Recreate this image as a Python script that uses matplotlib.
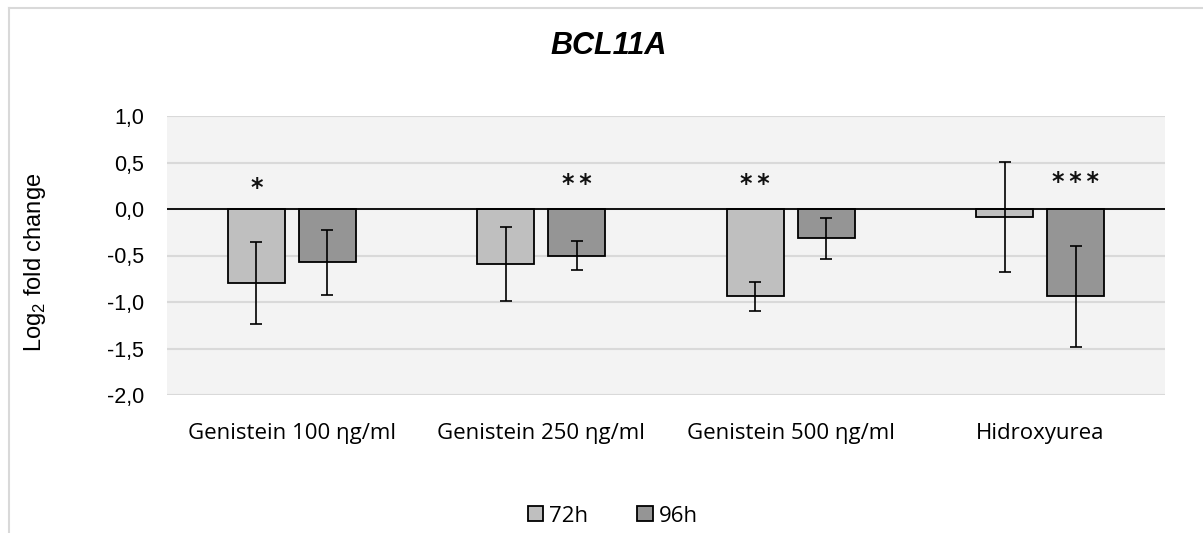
import matplotlib
matplotlib.use("Agg")
import matplotlib.pyplot as plt
import numpy as np
from matplotlib.patches import Patch
from matplotlib.lines import Line2D

categories = ["Genistein 100 \u03b7g/ml", "Genistein 250 \u03b7g/ml",
              "Genistein 500 \u03b7g/ml", "Hidroxyurea"]
series_names = ["72h", "96h"]
values_72h = [-0.80, -0.59, -0.94, -0.086]
values_96h = [-0.575, -0.50, -0.316, -0.94]
err_72h = [0.44, 0.40, 0.16, 0.59]
err_96h = [0.35, 0.155, 0.22, 0.546]
sig_72h = ["*", "", "**", ""]
sig_96h = ["", "**", "", "***"]
sig_y_72h = [0.23, 0.0, 0.27, 0.0]
sig_y_96h = [0.0, 0.27, 0.0, 0.29]
yticks = [1.0, 0.5, 0.0, -0.5, -1.0, -1.5, -2.0]
ytick_labels = ["1,0", "0,5", "0,0", "-0,5", "-1,0", "-1,5", "-2,0"]
title = "BCL11A"
ylabel = "Log$_\\mathregular{2}$ fold change"

colors = ["#BFBFBF", "#959595"]
W, H = 1203, 533
fig = plt.figure(figsize=(W / 100, H / 100), dpi=100)
fig.patch.set_facecolor("white")

ax = fig.add_axes([167 / W, 1 - 395 / H, 998 / W, 279 / H])
ax.set_facecolor("#F3F3F3")
for s in ax.spines.values():
    s.set_visible(False)

x = np.arange(len(categories))
bw = 0.228
off = 0.142
ekw = dict(ecolor="black", elinewidth=1.2, capsize=4.2, capthick=1.2)
for i, (vals, errs, sig, sy) in enumerate([(values_72h, err_72h, sig_72h, sig_y_72h),
                                           (values_96h, err_96h, sig_96h, sig_y_96h)]):
    xs = x + (off if i else -off)
    ax.bar(xs, vals, width=bw, color=colors[i], edgecolor="black",
           linewidth=1.3, zorder=3, label=series_names[i])
    ax.errorbar(xs, vals, yerr=errs, fmt="none", zorder=5, **ekw)
    for xi, s, yy in zip(xs, sig, sy):
        if s:
            ax.text(xi, yy, "\u2009".join(s), ha="center", va="center", fontsize=17,
                    family=["DejaVu Sans"], fontweight="bold", color="#111111",
                    zorder=6)

ax.axhline(0, color="black", linewidth=1.3, zorder=4)
ax.set_ylim(-2.0, 1.0)
ax.set_xlim(-0.5, len(categories) - 0.5)
ax.set_yticks(yticks)
ax.set_yticklabels(ytick_labels, family="Liberation Sans", fontsize=15.5)
ax.yaxis.grid(True, color="#D9D9D9", linewidth=1.5, zorder=0)
ax.set_axisbelow(True)
ax.tick_params(axis="y", length=0, pad=16.5)
ax.set_xticks(x)
ax.set_xticklabels(categories, family="Open Sans", fontsize=16)
ax.tick_params(axis="x", length=0, pad=20)

fig.text(35 / W, 1 - 262 / H, ylabel, rotation=90, ha="center", va="center",
         family="Liberation Sans", fontsize=17)
fig.text(608.5 / W, 1 - 46 / H, title, ha="center", va="center",
         family="Liberation Sans", fontsize=22, fontweight="bold", style="italic")

handles = [Patch(facecolor=colors[k], edgecolor="black", linewidth=1.3,
                 label=series_names[k]) for k in range(2)]
fig.legend(handles=handles, loc="center", bbox_to_anchor=(613 / W, 1 - 516 / H),
           ncol=2, frameon=False, prop={"family": "Open Sans", "size": 16},
           handlelength=0.68, handleheight=0.68, handletextpad=0.3, columnspacing=2.2)

fig.add_artist(Line2D([9 / W, 9 / W], [0, 1 - 8 / H], color="#D9D9D9", linewidth=1.5))
fig.add_artist(Line2D([9 / W, 1], [1 - 8 / H, 1 - 8 / H], color="#D9D9D9", linewidth=1.5))

fig.savefig("out.png", dpi=100)
